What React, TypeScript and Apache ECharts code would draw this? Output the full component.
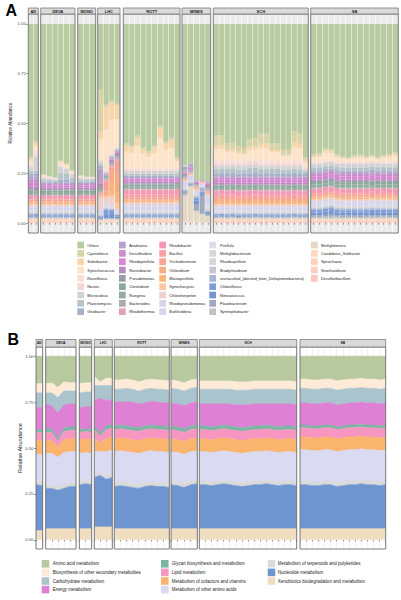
import React, { useEffect, useRef } from 'react';
import * as echarts from 'echarts';

// ---------- categories ----------
const facets = ['AD', 'DEVA', 'MONO', 'LHC', 'ROTT', 'MINES', 'SCH', 'SB'];
const samplesPerFacet = [2, 6, 3, 4, 10, 5, 17, 15];

// ---------- Panel A: genus abundances (per-mille), facet order AD|DEVA|MONO|LHC|ROTT|MINES|SCH|SB ----------
const desulfatibacillum = [6,6,  6,6,6,6,6,6,  6,6,6,  3,4,4,4,  6,6,6,6,6,6,6,6,6,6,  2,2,1,1,1,  6,7,6,6,5,6,6,7,6,6,5,6,6,6,7,6,6,  6,6,7,6,6,5,6,6,6,6,7,6,6,6,6];
const sinorhizobium = [5,5,  5,5,5,5,5,5,  5,5,5,  3,4,4,4,  5,5,5,5,5,5,5,5,5,5,  2,2,1,1,1,  5,5,5,6,5,5,5,5,5,5,6,5,5,5,5,5,5,  5,5,5,5,6,5,5,5,5,5,5,5,6,5,5];
const spirochaeta = [5,5,  5,5,5,5,5,5,  5,5,5,  3,4,4,4,  5,5,5,5,5,5,5,5,5,5,  2,2,1,1,1,  5,5,5,5,5,5,5,5,5,5,5,5,5,5,5,5,5,  5,5,5,5,5,5,5,5,5,5,5,5,5,5,5];
const candidatusSolibacter = [4,4,  4,4,4,4,4,4,  4,4,4,  3,4,4,4,  4,4,4,4,4,4,4,4,4,4,  2,2,1,1,1,  4,4,4,4,4,4,4,4,4,4,4,4,4,4,4,4,4,  4,4,4,4,4,4,4,4,4,4,4,4,4,4,4];
const methylotenera = [3,3,  3,3,3,3,3,3,  3,3,3,  3,3,3,3,  3,3,3,3,3,3,3,3,3,3,  130,175,55,40,30,  3,3,3,3,3,3,3,3,3,3,3,3,3,3,3,3,3,  3,3,3,3,3,3,3,3,3,3,3,3,3,3,3];
const syntrophobacter = [5,5,  5,5,5,5,5,5,  5,5,5,  3,3,3,3,  5,5,5,5,5,5,5,5,5,5,  8,5,3,3,3,  5,5,5,5,5,5,5,5,5,5,5,5,5,5,5,5,5,  8,8,8,9,8,8,8,8,7,8,8,8,8,8,8];
const flavobacterium = [4,4,  4,4,4,4,4,4,  4,4,4,  5,3,3,3,  4,4,4,4,4,4,4,4,4,4,  10,5,30,90,5,  4,4,4,4,4,4,4,4,4,4,4,4,4,4,4,4,4,  8,8,9,10,8,8,8,8,8,8,8,8,8,8,8];
const nitrosococcus = [6,7,  6,6,6,6,6,6,  6,6,6,  6,20,20,8,  6,6,6,6,6,6,6,6,6,6,  3,3,20,10,8,  6,6,6,6,6,6,6,6,6,6,6,6,6,6,6,6,6,  14,14,16,18,14,14,13,14,14,14,15,14,14,14,14];
const chloroflexus = [6,6,  6,6,6,6,6,6,  6,6,6,  5,20,20,7,  6,6,6,6,6,6,6,6,6,6,  3,3,15,10,7,  6,6,6,6,6,6,6,6,6,6,6,6,6,6,6,6,6,  12,12,14,15,12,12,12,12,12,12,12,12,12,12,12];
const unclassifiedDelta = [3,3,  3,3,3,3,3,3,  3,3,3,  3,8,5,3,  3,3,3,3,3,3,3,3,3,3,  5,3,8,20,5,  3,3,3,3,3,3,3,3,3,3,3,3,3,3,3,3,3,  8,8,8,8,8,8,8,8,8,8,8,8,8,8,8];
const bradyrhizobium = [4,4,  4,4,4,4,4,4,  4,4,4,  3,3,3,3,  4,4,4,4,4,4,4,4,4,4,  3,3,3,5,5,  4,4,4,4,4,4,4,4,4,4,4,4,4,4,4,4,4,  4,4,4,4,4,4,4,4,4,4,4,4,4,4,4];
const rhodospirillum = [4,4,  4,4,4,4,4,4,  4,4,4,  3,3,3,3,  4,4,4,4,4,4,4,4,4,4,  3,3,3,2,5,  4,4,4,4,4,4,4,4,4,4,4,4,4,4,4,4,4,  4,4,4,4,4,4,4,4,4,4,4,4,4,4,4];
const methylobacterium = [4,4,  4,4,4,4,4,4,  4,4,4,  3,3,3,3,  4,4,4,4,4,4,4,4,4,4,  3,3,3,2,5,  4,4,4,4,4,4,4,4,4,4,4,4,4,4,4,4,4,  4,4,4,4,4,4,4,4,4,4,4,4,4,4,4];
const pirellula = [6,6,  6,6,6,6,6,6,  6,6,6,  4,3,3,3,  6,6,6,6,6,6,6,6,6,6,  5,5,3,3,15,  6,6,6,6,6,6,6,6,6,6,6,6,6,6,6,6,6,  6,6,6,6,6,6,6,6,6,6,6,6,6,6,6];
const burkholderia = [12,12,  12,12,11,12,12,12,  12,12,12,  10,5,5,4,  18,18,18,18,18,18,18,18,18,20,  20,15,8,5,30,  12,12,12,12,12,12,12,12,12,12,12,12,12,12,12,12,12,  12,12,12,12,12,12,12,12,12,12,12,12,12,12,12];
const rhodopseudomonas = [8,8,  8,8,8,8,8,8,  8,8,8,  6,3,3,3,  12,12,12,12,12,12,12,12,12,12,  10,8,5,3,15,  8,8,8,8,8,8,8,8,8,8,8,8,8,8,8,8,8,  8,8,8,8,8,8,8,8,8,8,8,8,8,8,8];
const chloroherpeton = [5,5,  5,5,5,5,5,5,  5,5,5,  60,30,40,10,  5,5,5,5,5,5,5,5,5,5,  2,2,2,2,3,  5,5,5,5,5,5,5,5,5,5,5,5,5,5,5,5,5,  5,5,5,5,5,5,5,5,5,5,5,5,5,5,5];
const synechocystis = [6,6,  6,6,6,6,6,6,  6,6,6,  6,10,10,30,  6,6,6,6,6,6,6,6,6,6,  2,2,8,3,5,  6,6,6,6,6,6,6,6,6,6,6,6,6,6,6,6,6,  6,6,6,6,6,6,6,6,6,6,6,6,6,6,6];
const blastopirellula = [6,6,  6,6,6,6,6,6,  6,6,6,  3,5,60,50,  6,6,6,6,6,6,6,6,6,6,  2,2,5,2,5,  10,10,10,10,10,10,10,10,10,10,10,10,10,10,10,10,10,  6,6,6,6,6,6,6,6,6,6,6,6,6,6,6];
const chlorobium = [6,6,  6,6,6,6,6,6,  6,6,6,  3,20,60,90,  6,6,6,6,6,6,6,6,6,6,  2,2,3,2,3,  10,10,10,10,10,10,10,10,10,10,10,10,10,10,10,10,10,  6,6,6,6,6,6,6,6,6,6,6,6,6,6,6];
const trichodesmium = [10,10,  10,10,10,10,10,10,  10,10,10,  5,50,20,70,  12,12,12,12,12,12,12,12,12,12,  3,2,2,2,5,  14,14,14,14,14,14,14,14,14,14,14,14,14,14,14,14,14,  10,10,10,10,10,10,10,10,10,10,10,10,10,10,10];
const bacillus = [8,8,  8,8,8,8,8,8,  8,8,8,  4,4,3,3,  15,15,15,15,15,15,15,15,15,15,  2,2,2,1,3,  12,12,12,12,12,12,12,12,12,12,12,12,12,12,12,12,12,  12,12,12,12,12,12,12,12,12,12,12,12,12,12,12];
const rhodobacter = [10,10,  10,10,10,10,10,10,  10,10,10,  4,4,3,3,  20,20,20,20,20,20,20,20,20,20,  2,2,2,1,3,  18,18,18,18,18,18,18,18,18,18,18,18,18,18,18,18,18,  14,14,14,14,14,14,14,14,14,14,14,14,14,14,14];
const rhodothermus = [4,4,  4,4,4,4,4,4,  4,4,4,  3,3,3,3,  4,4,4,4,4,4,4,4,4,4,  2,2,1,1,2,  4,4,4,4,4,4,4,4,4,4,4,4,4,4,4,4,4,  4,4,4,4,4,4,4,4,4,4,4,4,4,4,4];
const bacteroides = [6,6,  6,6,6,6,6,6,  6,6,6,  6,5,3,3,  6,6,6,6,6,6,6,6,6,6,  3,2,3,1,4,  6,6,6,6,6,6,6,6,6,6,6,6,6,6,6,6,6,  6,6,6,6,6,6,6,6,6,6,6,6,6,6,6];
const ruegeria = [10,10,  10,10,10,10,10,10,  10,10,10,  5,4,3,3,  10,10,10,10,10,10,10,10,10,10,  3,2,2,1,4,  10,10,10,10,10,10,10,10,10,10,10,10,10,10,10,10,10,  14,14,14,14,14,14,14,14,14,14,14,14,14,14,14];
const clostridium = [8,8,  8,8,8,8,8,8,  8,8,8,  5,4,3,3,  8,8,8,8,8,8,8,8,8,8,  3,2,2,1,3,  8,8,8,8,8,8,8,8,8,8,8,8,8,8,8,8,8,  12,12,12,12,12,12,12,12,12,12,12,12,12,12,12];
const pseudomonas = [6,6,  6,6,6,6,6,6,  6,6,6,  10,5,5,5,  6,6,6,6,6,6,6,6,6,6,  5,3,3,2,4,  6,6,6,6,6,6,6,6,6,6,6,6,6,6,6,6,6,  6,6,6,6,6,6,6,6,6,6,6,6,6,6,6];
const roseobacter = [12,12,  8,8,8,8,8,8,  8,8,8,  20,3,15,20,  8,8,8,8,8,8,8,8,8,8,  8,4,8,2,10,  8,8,8,8,8,8,8,8,8,8,8,8,8,8,8,8,8,  8,8,8,8,8,8,8,8,8,8,8,8,8,8,8];
const rhodopirellula = [20,20,  10,10,10,10,10,10,  10,10,10,  5,2,3,3,  10,10,10,10,10,10,10,10,10,10,  4,12,3,1,8,  15,15,15,15,15,15,15,15,15,15,15,15,15,15,15,15,15,  15,15,15,15,15,15,15,15,15,15,15,15,15,15,15];
const desulfovibrio = [15,15,  8,8,8,8,8,8,  8,8,8,  10,2,3,3,  8,8,8,8,8,8,8,8,8,8,  4,3,3,1,5,  12,12,12,12,12,12,12,12,12,12,12,12,12,12,12,12,12,  12,12,12,12,12,12,12,12,12,12,12,12,12,12,12];
const anabaena = [15,15,  6,6,6,6,6,6,  6,6,6,  60,3,6,4,  6,6,6,6,6,6,6,6,6,6,  5,3,3,0,4,  6,6,6,6,6,6,6,6,6,6,6,6,6,6,6,6,6,  12,12,12,12,12,12,12,12,12,12,12,12,12,12,12];
const geobacter = [15,15,  6,6,6,16,16,6,  6,6,6,  10,3,3,3,  6,6,6,6,6,6,6,6,6,6,  20,12,3,0,2,  15,15,15,15,15,15,15,15,15,15,15,15,15,15,15,15,15,  6,6,6,6,6,6,6,6,6,6,6,6,6,6,6];
const planctomyces = [15,15,  8,8,8,33,28,18,  8,8,8,  10,3,3,3,  10,10,10,10,10,10,10,10,10,10,  3,1,0,0,0,  20,20,22,24,20,18,26,26,20,20,22,22,18,18,20,20,10,  15,15,15,15,15,15,15,15,15,15,15,15,15,15,15];
const microcoleus = [20,70,  10,8,4,30,25,18,  10,7,8,  15,5,5,4,  15,15,15,15,15,15,15,15,15,15,  2,1,0,0,0,  18,18,18,18,18,18,18,18,18,18,18,18,18,18,18,18,10,  18,18,18,18,18,18,18,18,18,18,18,18,18,18,18];
const nostoc = [8,15,  4,4,4,4,4,4,  4,4,4,  5,4,3,3,  8,8,8,8,8,8,8,8,8,8,  1,0,0,0,0,  12,12,12,12,12,12,12,12,12,12,12,12,12,12,12,12,5,  6,6,6,6,6,6,6,6,6,6,6,6,6,6,6];
const roseiflexus = [8,15,  4,4,4,4,4,4,  4,4,4,  5,8,6,5,  8,8,8,8,8,8,8,8,8,8,  1,0,0,0,0,  15,15,15,15,15,15,15,15,15,15,15,15,15,15,15,15,5,  6,6,6,6,6,6,6,6,6,6,6,6,6,6,6];
const synechococcus = [15,25,  6,2,2,15,12,8,  3,1,0,  100,200,170,140,  80,75,110,70,55,75,150,90,100,30,  0,0,0,0,0,  55,58,38,40,35,30,45,48,60,62,40,38,24,25,65,62,25,  20,24,38,32,21,15,12,18,20,15,18,12,18,21,27];
const salinibacter = [10,13,  3,1,0,6,5,3,  2,0,0,  40,115,85,70,  30,27,40,22,17,27,50,30,40,12,  0,0,0,0,0,  20,19,12,10,10,7,15,15,23,23,10,11,6,5,25,21,10,  7,8,12,9,6,3,2,5,7,4,5,2,4,6,9];
const cyanothece = [7,10,  2,0,0,5,4,2,  1,0,0,  210,10,10,7,  12,10,12,10,10,10,12,12,12,10,  0,0,0,0,0,  50,48,35,35,30,28,40,42,52,50,35,36,25,25,55,52,15,  8,8,10,9,8,7,6,7,8,6,7,6,8,8,9];

// bottom -> top stacking order (Others = remainder up to 1)
const taxaStack: [string, number[]][] = [
  ['Desulfatibacillum', desulfatibacillum], ['Sinorhizobium', sinorhizobium], ['Spirochaeta', spirochaeta],
  ['Candidatus_Solibacter', candidatusSolibacter], ['Methylotenera', methylotenera], ['Syntrophobacter', syntrophobacter],
  ['Flavobacterium', flavobacterium], ['Nitrosococcus', nitrosococcus], ['Chloroflexus', chloroflexus],
  ['unclassified_(derived_from_Deltaproteobacteria)', unclassifiedDelta], ['Bradyrhizobium', bradyrhizobium],
  ['Rhodospirillum', rhodospirillum], ['Methylobacterium', methylobacterium], ['Pirellula', pirellula],
  ['Burkholderia', burkholderia], ['Rhodopseudomonas', rhodopseudomonas], ['Chloroherpeton', chloroherpeton],
  ['Synechocystis', synechocystis], ['Blastopirellula', blastopirellula], ['Chlorobium', chlorobium],
  ['Trichodesmium', trichodesmium], ['Bacillus', bacillus], ['Rhodobacter', rhodobacter], ['Rhodothermus', rhodothermus],
  ['Bacteroides', bacteroides], ['Ruegeria', ruegeria], ['Clostridium', clostridium], ['Pseudomonas', pseudomonas],
  ['Roseobacter', roseobacter], ['Rhodopirellula', rhodopirellula], ['Desulfovibrio', desulfovibrio], ['Anabaena', anabaena],
  ['Geobacter', geobacter], ['Planctomyces', planctomyces], ['Microcoleus', microcoleus], ['Nostoc', nostoc],
  ['Roseiflexus', roseiflexus], ['Synechococcus', synechococcus], ['Salinibacter', salinibacter], ['Cyanothece', cyanothece],
];

const legendAColumns = [
  ['Others', 'Cyanothece', 'Salinibacter', 'Synechococcus', 'Roseiflexus', 'Nostoc', 'Microcoleus', 'Planctomyces', 'Geobacter'],
  ['Anabaena', 'Desulfovibrio', 'Rhodopirellula', 'Roseobacter', 'Pseudomonas', 'Clostridium', 'Ruegeria', 'Bacteroides', 'Rhodothermus'],
  ['Rhodobacter', 'Bacillus', 'Trichodesmium', 'Chlorobium', 'Blastopirellula', 'Synechocystis', 'Chloroherpeton', 'Rhodopseudomonas', 'Burkholderia'],
  ['Pirellula', 'Methylobacterium', 'Rhodospirillum', 'Bradyrhizobium', 'unclassified_(derived_from_Deltaproteobacteria)', 'Chloroflexus', 'Nitrosococcus', 'Flavobacterium', 'Syntrophobacter'],
  ['Methylotenera', 'Candidatus_Solibacter', 'Spirochaeta', 'Sinorhizobium', 'Desulfatibacillum'],
];

// ---------- Panel B: KEGG pathway abundances (%) ----------
const xenobiotics = [5,5,  6,6,6,6,6,6,  6,6,6,  7,7,7,7,  6,6,6,6,6,6,6,6,6,6,  6,6,6,6,6,  6,6,6,6,6,6,6,6,6,6,6,6,6,6,6,6,6,  6,6,6,6,6,6,6,6,6,6,6,6,6,6,6];
const nucleotide = [25,24.5,  22,22,21,22,23,23,  24,24.5,24,  27,28,26,27,  23,23.5,23,22.5,22,23,23.5,23,23,22.5,  24,23.5,22.5,24,24.5,  24,24,23.5,24,24.5,24,23.5,23,23.5,24,24,24.5,24,23.5,24,24,23.5,  24,24,23.5,23.5,24,24,23,23.5,24,24,24.5,24,24,23.5,24];
const terpenoids = [2,2,  2,2,2,2,2,2,  2,2,2,  2,1.5,2,2,  2,2,2,2,2,2,2,2,2,2,  2,2,2,2,2,  2,2,2,2,2,2,2,2,2,2,2,2,2,2,2,2,2,  2,2,2,2,2,2,2,2,2,2,2,2,2,2,2];
const otherAminoAcids = [14.5,15,  17,17,16,17.5,17,17,  15,15,15,  12,11.5,13,13,  17,17,17,17,17,17,17,17,17,17,  16,16,16,16,16,  16,16,16,16,16,16,16,16,16,16,16,16,16,16,16,16,16,  17,17,17,17,17,17,17,17,17,17,17,17,17,17,17];
const cofactors = [7.5,7.5,  7,7,5.5,7,7,7,  7.5,7.5,7.5,  7,5,7,7,  7,7,7,7,7,7,7,7,7,7,  7,7,7,7,7,  7,7,7,7,7,7,7,7,7,7,7,7,7,7,7,7,7,  7,7,7,7,7,7,7,7,7,7,7,7,7,7,7];
const lipid = [4.5,4.5,  4.5,4.5,3,4.5,4.5,4.5,  4,4,4,  5,3.5,5,5,  5,5,5,5,5,5,5,5,5,5,  5,5,5,5,5,  5,5,5,5,5,5,5,5,5,5,5,5,5,5,5,5,5,  5,5,5,5,5,5,5,5,5,5,5,5,5,5,5];
const glycan = [1.5,1.5,  2,2,1.5,2,2,2,  1.5,1.5,1.5,  2,1.5,2,2,  2,2,2,2,2,2,2,2,2,2,  2,2,2,2,2,  2,2,2,2,2,2,2,2,2,2,2,2,2,2,2,2,2,  1.5,1.5,1.5,1.5,1.5,1.5,1.5,1.5,1.5,1.5,1.5,1.5,1.5,1.5,1.5];
const energy = [12,12,  13.5,12.5,14,12.5,12.5,12.5,  12,12,12.5,  14,19,14,13,  13,12.5,13,13.5,13,12.5,13,13,12.5,13,  12.5,12.5,12.5,12.5,12.5,  12,12,12.5,12,11.5,12,12,12.5,12,12,12,11.5,12,12.5,12,12,12,  12,12,12,12,12,12,12,12,12,12,12,12,12,12,12];
const carbohydrate = [8,8,  6,7,8.5,7.5,7,7,  8,8,8,  8,7,8,8,  7,7,7.5,7,7,7.5,7,7,7.5,7,  8,8,8,8,8,  8,8,8,8,8,8,8,8,8,8,8,8,8,8,8,8,8,  8,8,8,8,8,8,8,8,8,8,8,8,8,8,8];
const biosynthesis = [5,5,  5,5.5,5.5,5,4.5,4.5,  5,5,5,  5,2,4,4,  5,5,5,5,5,5,5,5,5,5,  4.5,4.5,4.5,4.5,4.5,  4.5,4.5,4.5,4.5,4.5,4.5,4.5,4.5,4.5,4.5,4.5,4.5,4.5,4.5,4.5,4.5,4.5,  5,5,5,5,5,5,5,5,5,5,5,5,5,5,5];

const pathwayStack: [string, number[]][] = [
  ['Xenobiotics biodegradation and metabolism', xenobiotics],
  ['Nucleotide metabolism', nucleotide],
  ['Metabolism of terpenoids and polyketides', terpenoids],
  ['Metabolism of other amino acids', otherAminoAcids],
  ['Metabolism of cofactors and vitamins', cofactors],
  ['Lipid metabolism', lipid],
  ['Glycan biosynthesis and metabolism', glycan],
  ['Energy metabolism', energy],
  ['Carbohydrate metabolism', carbohydrate],
  ['Biosynthesis of other secondary metabolites', biosynthesis],
];

const legendBColumns = [
  ['Amino acid metabolism', 'Biosynthesis of other secondary metabolites', 'Carbohydrate metabolism', 'Energy metabolism'],
  ['Glycan biosynthesis and metabolism', 'Lipid metabolism', 'Metabolism of cofactors and vitamins', 'Metabolism of other amino acids'],
  ['Metabolism of terpenoids and polyketides', 'Nucleotide metabolism', 'Xenobiotics biodegradation and metabolism'],
];

const yTicks = [0, 0.25, 0.5, 0.75, 1];

// ---------- styles ----------
const colorsA: Record<string, string> = {
  Others: '#B9CBA0', Cyanothece: '#D8D4A8', Salinibacter: '#F9D6AA', Synechococcus: '#FDE3C8', Roseiflexus: '#FBDFD6',
  Nostoc: '#F6D6D3', Microcoleus: '#D3D3D3', Planctomyces: '#B5C4CB', Geobacter: '#A6B0C8',
  Anabaena: '#B6A2CC', Desulfovibrio: '#C98ECC', Rhodopirellula: '#DA85D4', Roseobacter: '#B58EC0', Pseudomonas: '#9C9CA4',
  Clostridium: '#8AA7A0', Ruegeria: '#90AE9E', Bacteroides: '#ABABAB', Rhodothermus: '#E3A3AE',
  Rhodobacter: '#F597B4', Bacillus: '#F89FAA', Trichodesmium: '#F8A491', Chlorobium: '#F9AC82', Blastopirellula: '#F9B77A',
  Synechocystis: '#FBC7A6', Chloroherpeton: '#EDD0D2', Rhodopseudomonas: '#DCD3E6', Burkholderia: '#D4D6F0',
  Pirellula: '#DCDCE8', Methylobacterium: '#D8D8D8', Rhodospirillum: '#D6D6DA', Bradyrhizobium: '#C4C8D2',
  'unclassified_(derived_from_Deltaproteobacteria)': '#A7B6D6', Chloroflexus: '#7E9ED6', Nitrosococcus: '#7595D0',
  Flavobacterium: '#A1A9BE', Syntrophobacter: '#C2C2C2',
  Methylotenera: '#E5D8C4', Candidatus_Solibacter: '#FCD8BE', Spirochaeta: '#FCD2B8', Sinorhizobium: '#FAD0C0', Desulfatibacillum: '#F8C6BA',
};
const colorsB: Record<string, string> = {
  'Amino acid metabolism': '#B8C89F', 'Biosynthesis of other secondary metabolites': '#FDEBD8', 'Carbohydrate metabolism': '#AAC4CE',
  'Energy metabolism': '#DE80D3', 'Glycan biosynthesis and metabolism': '#7DB5A5', 'Lipid metabolism': '#F796C0',
  'Metabolism of cofactors and vitamins': '#F9B46E', 'Metabolism of other amino acids': '#DADAF2',
  'Metabolism of terpenoids and polyketides': '#DADADA', 'Nucleotide metabolism': '#6E95CF',
  'Xenobiotics biodegradation and metabolism': '#F1DDBF',
};

const FONT = 'Liberation Sans, Arial, Helvetica, sans-serif';
const A_TOP = 14, A_H = 219, A_STRIP_Y = 8, A_STRIP_H = 6;
const B_TOP = 347, B_H = 202, B_STRIP_Y = 339.5, B_STRIP_H = 7.5;
const panelA = [[28.3, 10], [40.7, 34.3], [77.7, 18], [97.7, 22.3], [123.3, 56.7], [182, 28.7], [213.3, 95], [310.7, 87.6]];
const panelB = [[36, 6.7], [45.7, 30.3], [79.3, 12.4], [94.3, 18], [114.3, 55], [171, 26.3], [199.3, 97.4], [300, 85.7]];
const BORDER = '#6E6E6E';

export default function App() {
  const ref = useRef<HTMLDivElement>(null);
  useEffect(() => {
    const chart = echarts.init(ref.current!, null, { renderer: 'svg' });
    const total = samplesPerFacet.reduce((a, b) => a + b, 0);
    const offsets: number[] = [];
    let acc = 0;
    samplesPerFacet.forEach((n) => { offsets.push(acc); acc += n; });

    const sumA = new Array(total).fill(0);
    taxaStack.forEach(([, arr]) => arr.forEach((v, i) => { sumA[i] += v; }));
    const others = sumA.map((s) => 1000 - s);
    const stackA: [string, number[]][] = [...taxaStack, ['Others', others]];

    const sumB = new Array(total).fill(0);
    pathwayStack.forEach(([, arr]) => arr.forEach((v, i) => { sumB[i] += v; }));
    const amino = sumB.map((s) => 100 - s);
    const stackB: [string, number[]][] = [...pathwayStack, ['Amino acid metabolism', amino]];

    const grids: any[] = [];
    const xAxes: any[] = [];
    const yAxes: any[] = [];
    const series: any[] = [];
    const elements: any[] = [];

    const yAxisFor = (gi: number, first: boolean) => ({
      type: 'value', gridIndex: gi, min: -0.05, max: 1.05,
      axisLine: { show: false },
      splitLine: { show: false },
      axisTick: first ? { show: true, customValues: yTicks, length: 2, lineStyle: { color: '#333', width: 0.5 } } : { show: false },
      axisLabel: first ? {
        show: true, customValues: yTicks, formatter: (v: number) => v.toFixed(2),
        fontSize: 4.3, color: '#4D4D4D', margin: 2.5, fontFamily: FONT,
      } : { show: false },
    });

    // Panel A grids
    facets.forEach((f, fi) => {
      const [left, width] = panelA[fi];
      const cats = Array.from({ length: samplesPerFacet[fi] }, (_, k) => `${f}_${k + 1}`);
      grids.push({ left, top: A_TOP, width, height: A_H, show: true, backgroundColor: '#EBEBEB', borderWidth: 0, containLabel: false });
      xAxes.push({
        type: 'category', gridIndex: fi, data: cats, boundaryGap: true,
        axisLine: { show: false }, axisLabel: { show: false },
        axisTick: { show: true, alignWithLabel: true, interval: 0, length: 1.6, lineStyle: { color: '#333', width: 0.5 } },
        splitLine: { show: true, interval: 0, lineStyle: { color: '#FFFFFF', width: 0.6 } },
      });
      yAxes.push(yAxisFor(fi, fi === 0));
      stackA.forEach(([name, arr]) => {
        series.push({
          type: 'bar', name, xAxisIndex: fi, yAxisIndex: fi, stack: 'A' + fi,
          barCategoryGap: '10%', silent: true,
          itemStyle: { color: colorsA[name] },
          data: arr.slice(offsets[fi], offsets[fi] + samplesPerFacet[fi]).map((v) => v / 1000),
        });
      });
      elements.push({ type: 'rect', shape: { x: left, y: A_TOP, width, height: A_H }, style: { fill: 'none', stroke: BORDER, lineWidth: 0.9 }, z: 50, silent: true });
      elements.push({ type: 'rect', shape: { x: left, y: A_STRIP_Y, width, height: A_STRIP_H }, style: { fill: '#D9D9D9', stroke: BORDER, lineWidth: 0.7 }, z: 50, silent: true });
      elements.push({ type: 'text', x: left + width / 2, y: A_STRIP_Y + A_STRIP_H / 2 + 0.2, style: { text: f, fontSize: 4, fontWeight: 'bold', fill: '#1A1A1A', align: 'center', verticalAlign: 'middle', fontFamily: FONT }, z: 51, silent: true });
    });

    // Panel B grids
    facets.forEach((f, fi) => {
      const gi = 8 + fi;
      const [left, width] = panelB[fi];
      const cats = Array.from({ length: samplesPerFacet[fi] }, (_, k) => `${f}_${k + 1}`);
      grids.push({ left, top: B_TOP, width, height: B_H, show: true, backgroundColor: '#FFFFFF', borderWidth: 0, containLabel: false });
      xAxes.push({
        type: 'category', gridIndex: gi, data: cats, boundaryGap: false,
        axisLine: { show: false }, axisLabel: { show: false },
        axisTick: { show: true, interval: 0, length: 1.6, lineStyle: { color: '#333', width: 0.5 } },
        splitLine: { show: true, interval: 0, lineStyle: { color: '#E3E3E3', width: 0.5 } },
      });
      yAxes.push(yAxisFor(gi, fi === 0));
      stackB.forEach(([name, arr]) => {
        series.push({
          type: 'line', name, xAxisIndex: gi, yAxisIndex: gi, stack: 'B' + fi,
          symbol: 'none', showSymbol: false, silent: true,
          lineStyle: { width: 0.7, color: colorsB[name] },
          areaStyle: { color: colorsB[name], opacity: 1 },
          data: arr.slice(offsets[fi], offsets[fi] + samplesPerFacet[fi]).map((v) => v / 100),
        });
      });
      elements.push({ type: 'rect', shape: { x: left, y: B_TOP, width, height: B_H }, style: { fill: 'none', stroke: BORDER, lineWidth: 0.9 }, z: 50, silent: true });
      elements.push({ type: 'rect', shape: { x: left, y: B_STRIP_Y, width, height: B_STRIP_H }, style: { fill: '#D9D9D9', stroke: BORDER, lineWidth: 0.7 }, z: 50, silent: true });
      elements.push({ type: 'text', x: left + width / 2, y: B_STRIP_Y + B_STRIP_H / 2 + 0.2, style: { text: f, fontSize: 3.4, fontWeight: 'bold', fill: '#1A1A1A', align: 'center', verticalAlign: 'middle', fontFamily: FONT }, z: 51, silent: true });
    });

    // Panel tags and axis titles
    elements.push({ type: 'text', x: 5.5, y: 10.5, style: { text: 'A', fontSize: 16, fontWeight: 'bold', fill: '#000', align: 'left', verticalAlign: 'middle', fontFamily: FONT }, silent: true });
    elements.push({ type: 'text', x: 7.5, y: 339.5, style: { text: 'B', fontSize: 16, fontWeight: 'bold', fill: '#000', align: 'left', verticalAlign: 'middle', fontFamily: FONT }, silent: true });
    elements.push({ type: 'text', x: 10, y: 123, rotation: Math.PI / 2, style: { text: 'Relative Abundance', fontSize: 4.6, fill: '#222', align: 'center', verticalAlign: 'middle', fontFamily: FONT }, silent: true });
    elements.push({ type: 'text', x: 20, y: 448, rotation: Math.PI / 2, style: { text: 'Relative Abundance', fontSize: 5.6, fill: '#222', align: 'center', verticalAlign: 'middle', fontFamily: FONT }, silent: true });

    // Legend A
    const legAKeyX = [77.3, 119, 159.3, 209.3, 311];
    const legATextX = [87.3, 129.3, 169.3, 220, 321];
    legendAColumns.forEach((col, c) => {
      col.forEach((name, r) => {
        const y = 241.7 + r * 8.33;
        elements.push({ type: 'rect', shape: { x: legAKeyX[c], y, width: 6.7, height: 6.7 }, style: { fill: colorsA[name] }, silent: true });
        elements.push({ type: 'text', x: legATextX[c], y: y + 3.5, style: { text: name, fontSize: 3.9, fill: '#222', align: 'left', verticalAlign: 'middle', fontFamily: FONT }, silent: true });
      });
    });

    // Legend B
    const legBKeyX = [41.7, 161, 267.7];
    const legBTextX = [52.7, 171.7, 277.7];
    legendBColumns.forEach((col, c) => {
      col.forEach((name, r) => {
        const y = 560 + r * 8.6;
        elements.push({ type: 'rect', shape: { x: legBKeyX[c], y, width: 7.6, height: 7.6 }, style: { fill: colorsB[name] }, silent: true });
        elements.push({ type: 'text', x: legBTextX[c], y: y + 3.9, style: { text: name, fontSize: 4.5, fill: '#222', align: 'left', verticalAlign: 'middle', fontFamily: FONT }, silent: true });
      });
    });

    chart.setOption({
      animation: false,
      backgroundColor: '#FFFFFF',
      grid: grids,
      xAxis: xAxes,
      yAxis: yAxes,
      series,
      graphic: { elements },
    });
    return () => chart.dispose();
  }, []);
  return <div ref={ref} style={{ position: 'fixed', left: 0, top: 0, width: 401, height: 600 }} />;
}
